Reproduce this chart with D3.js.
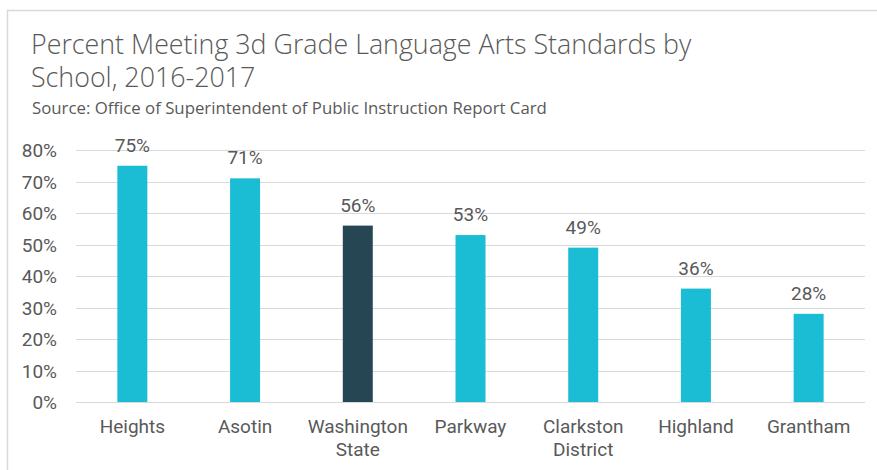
<!DOCTYPE html>
<html>
<head>
<meta charset="utf-8">
<script src="https://cdn.jsdelivr.net/npm/d3@7"></script>
<style>
  body { margin: 0; background: #fff; }
  svg { display: block; }
</style>
</head>
<body>
<div id="chart"></div>
<script>
// data
var schools = [["Heights"], ["Asotin"], ["Washington", "State"], ["Parkway"],
               ["Clarkston", "District"], ["Highland"], ["Grantham"]];
var percents = [75, 71, 56, 53, 49, 36, 28];
var highlight = [false, false, true, false, false, false, false];
var yTicks = [0, 10, 20, 30, 40, 50, 60, 70, 80];

var width = 877, height = 470,
    plotLeft = 76, plotRight = 865, plotTop = 150, plotBottom = 402,
    labelSize = "19px";

var svg = d3.select("#chart").append("svg")
    .attr("width", width).attr("height", height);

// frame
svg.append("path")
    .attr("d", "M7.5," + height + "V10.5H" + width)
    .attr("fill", "none").attr("stroke", "#d9d9d9").attr("stroke-width", 1.5);

// titles
svg.append("text").attr("x", 31).attr("y", 54)
    .style("font-family", "'Open Sans', sans-serif").style("font-weight", 300)
    .style("font-size", "26.8px").attr("fill", "#595959")
    .text("Percent Meeting 3d Grade Language Arts Standards by");
svg.append("text").attr("x", 31).attr("y", 87)
    .style("font-family", "'Open Sans', sans-serif").style("font-weight", 300)
    .style("font-size", "26.8px").attr("fill", "#595959")
    .text("School, 2016-2017");
svg.append("text").attr("x", 32).attr("y", 114)
    .style("font-family", "'Open Sans', sans-serif")
    .style("font-size", "16.8px").attr("fill", "#595959")
    .text("Source: Office of Superintendent of Public Instruction Report Card");

var x = d3.scaleBand().domain(d3.range(schools.length))
    .range([plotLeft, plotRight]).paddingInner(0.734).paddingOuter(0.367);
var y = d3.scaleLinear().domain([0, 80]).range([plotBottom, plotTop]);

// gridlines
svg.append("g").selectAll("line").data(yTicks).join("line")
    .attr("x1", plotLeft).attr("x2", plotRight)
    .attr("y1", function (d) { return Math.round(y(d)) + 0.5; })
    .attr("y2", function (d) { return Math.round(y(d)) + 0.5; })
    .attr("stroke", "#d9d9d9").attr("stroke-width", 1);

// y axis labels
svg.append("g").selectAll("text").data(yTicks).join("text")
    .attr("x", 57).attr("y", function (d) { return y(d) + 7; })
    .attr("text-anchor", "end")
    .style("font-family", "Roboto, sans-serif").style("font-size", labelSize)
    .attr("fill", "#595959")
    .text(function (d) { return d + "%"; });

// bars
svg.append("g").selectAll("rect").data(percents).join("rect")
    .attr("x", function (d, i) { return x(i); })
    .attr("width", x.bandwidth())
    .attr("y", function (d) { return y(d); })
    .attr("height", function (d) { return y(0) - y(d); })
    .attr("fill", function (d, i) { return highlight[i] ? "#264653" : "#1bbdd4"; });

// value labels
svg.append("g").selectAll("text").data(percents).join("text")
    .attr("x", function (d, i) { return x(i) + x.bandwidth() / 2; })
    .attr("y", function (d) { return y(d) - 14; })
    .attr("text-anchor", "middle")
    .style("font-family", "Roboto, sans-serif").style("font-size", labelSize)
    .attr("fill", "#595959")
    .text(function (d) { return d + "%"; });

// category labels
var cat = svg.append("g").selectAll("text").data(schools).join("text")
    .attr("x", function (d, i) { return x(i) + x.bandwidth() / 2; })
    .attr("y", 433)
    .attr("text-anchor", "middle")
    .style("font-family", "Roboto, sans-serif").style("font-size", labelSize)
    .attr("fill", "#595959");
cat.each(function (d, i) {
  var t = d3.select(this);
  d.forEach(function (line, k) {
    t.append("tspan").attr("x", x(i) + x.bandwidth() / 2)
      .attr("dy", k === 0 ? 0 : 23).text(line);
  });
});
</script>
</body>
</html>
